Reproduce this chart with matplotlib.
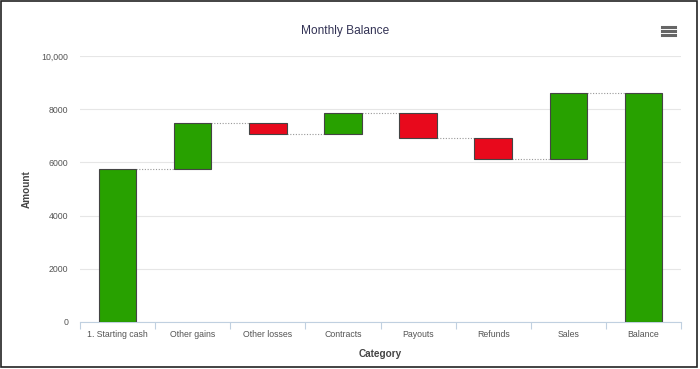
import matplotlib.pyplot as plt
import matplotlib.ticker as mticker
from matplotlib.patches import Rectangle
from matplotlib.lines import Line2D

plt.rcParams['font.family'] = ['Liberation Sans', 'DejaVu Sans']

categories = ['1. Starting cash', 'Other gains', 'Other losses', 'Contracts',
              'Payouts', 'Refunds', 'Sales', 'Balance']
changes = [5750, 1750, -430, 800, -950, -780, 2480]

# running totals -> bar bottoms/tops
bottoms = []
tops = []
total = 0
for c in changes:
    bottoms.append(min(total, total + c))
    tops.append(max(total, total + c))
    total += c
bottoms.append(0)
tops.append(total)
colors = ['#28a100' if c >= 0 else '#e8091c' for c in changes] + ['#28a100']

fig = plt.figure(figsize=(7, 3.69), dpi=100)
ax = fig.add_axes([80 / 700, 0.1274, 601 / 700, 0.7208])

x = list(range(len(categories)))
w = 0.5
ax.bar(x, [t - b for t, b in zip(tops, bottoms)], bottom=bottoms, width=w,
       color=colors, edgecolor='#444444', linewidth=0.8, zorder=3)

# connectors
levels = []
run = 0
for c in changes:
    run += c
    levels.append(run)
for i, lv in enumerate(levels):
    ax.plot([i + w / 2, i + 1 - w / 2], [lv, lv], color='#999999',
            linestyle=(0, (1, 1.5)), linewidth=0.8, zorder=2)

ax.set_xlim(-0.5, len(categories) - 0.5)
ax.set_ylim(0, 10000)
ax.set_yticks([0, 2000, 4000, 6000, 8000, 10000])
ax.yaxis.set_major_formatter(mticker.FuncFormatter(
    lambda v, p: '10,000' if v == 10000 else '%d' % v))
ax.grid(axis='y', color='#e6e6e6', linewidth=0.8, zorder=0)
ax.set_xticks(x)
ax.set_xticklabels(categories)
ax.set_xticks([i - 0.5 for i in range(len(categories) + 1)], minor=True)
ax.tick_params(axis='x', which='major', length=0, pad=6, labelsize=6.3,
               labelcolor='#555555')
ax.tick_params(axis='x', which='minor', length=5, color='#c0d0e0', width=0.8)
ax.tick_params(axis='y', length=0, pad=8.6, labelsize=6.3, labelcolor='#555555')
for s in ['top', 'right', 'left']:
    ax.spines[s].set_visible(False)
ax.spines['bottom'].set_color('#c0d0e0')
ax.spines['bottom'].set_linewidth(0.8)

ax.set_xlabel('Category', fontsize=7.2, fontweight='bold', color='#444444',
              labelpad=7)
ax.set_ylabel('Amount', fontsize=7.2, fontweight='bold', color='#444444',
              labelpad=7)

fig.text(0.493, 0.915, 'Monthly Balance', ha='center', va='center',
         fontsize=8.6, color='#333355')

# menu icon
for dy in [-4, 0, 4]:
    yy = (369 - 31 + dy) / 369
    fig.add_artist(Line2D([662 / 700, 675 / 700], [yy, yy], color='#666666',
                          linewidth=2.2))

# frame around chart
fig.add_artist(Rectangle((0.002, 0.006), 0.994, 0.99, transform=fig.transFigure,
                         fill=False, edgecolor='#222222', linewidth=1.2))

fig.savefig('out.png', dpi=100)
